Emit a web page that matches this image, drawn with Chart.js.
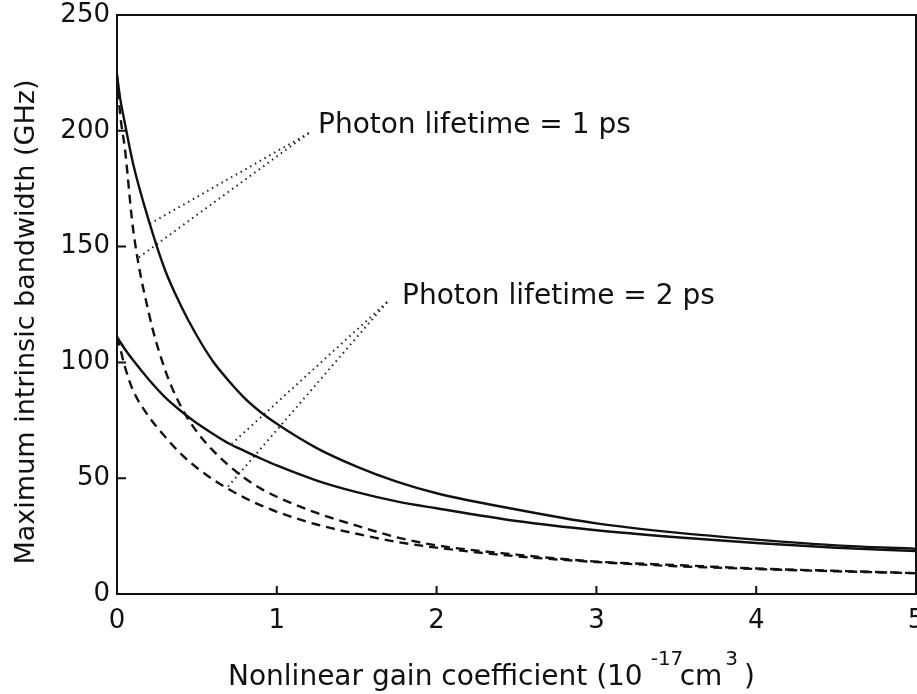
<!DOCTYPE html>
<html>
<head>
<meta charset="utf-8">
<script src="https://cdn.jsdelivr.net/npm/chart.js@4.4.0/dist/chart.umd.min.js"></script>
<style>
  html, body { margin: 0; padding: 0; background: #fff; }
  #wrap { width: 917px; height: 694px; }
</style>
</head>
<body>
<div id="wrap"><canvas id="bw"></canvas></div>
<script>
// gain coefficient (1e-17 cm^3) sample points
const gain = [0, 0.02, 0.05, 0.1, 0.2, 0.3, 0.4, 0.5, 0.6, 0.7, 0.8, 0.9, 1, 1.25, 1.5, 1.75, 2, 2.5, 3, 3.5, 4, 4.5, 5];

// max intrinsic bandwidth (GHz)
const solid1ps  = [224, 214, 203, 186, 161, 140, 124.5, 111.5, 100.5, 92, 84.5, 78.5, 73.5, 63, 55, 48.5, 43.5, 36.5, 30.5, 26.5, 23.5, 21, 19.5];
const solid2ps  = [111, 108.8, 105.7, 101, 92.5, 85, 79, 73.7, 69.2, 65, 61.7, 58.5, 55.5, 49, 44, 40, 37, 31.5, 27.5, 24.5, 22, 20, 18.5];
const dashed1ps = [224, 207, 192, 158, 121, 97, 81, 70, 62, 55.5, 50, 45.5, 42, 35, 29.5, 24.5, 21, 17, 14, 12.5, 11, 10, 9];
const dashed2ps = [111, 106, 98, 88, 76.5, 68, 60.5, 54.5, 49.5, 45.2, 41.5, 38.3, 35.5, 30, 26, 22.5, 20, 16.3, 13.8, 12, 10.8, 9.8, 9];

// leader lines from the labels to the curves (data coords)
const lead1a = [[1.2, 199], [0.21, 160]];
const lead1b = [[1.2, 199], [0.13, 145]];
const lead2a = [[1.69, 126], [0.72, 65]];
const lead2b = [[1.69, 126], [0.69, 46]];

const xTicks = [1, 2, 3, 4];
const yTicks = [50, 100, 150, 200];

const pts = ys => ys.map((v, i) => ({ x: gain[i], y: v }));
const seg = a => a.map(p => ({ x: p[0], y: p[1] }));

const FONT = "'DejaVu Sans', sans-serif";

function curve(data, dash) {
  return {
    data: pts(data),
    borderColor: '#111',
    borderWidth: 2.4,
    borderDash: dash,
    pointRadius: 0,
    cubicInterpolationMode: 'monotone',
    fill: false
  };
}
function leader(data) {
  return {
    data: seg(data),
    borderColor: '#222',
    borderWidth: 2,
    borderDash: [1.5, 4],
    pointRadius: 0,
    fill: false
  };
}

const decor = {
  id: 'decor',
  afterDraw(chart) {
    const ctx = chart.ctx;
    const a = chart.chartArea;
    const xs = chart.scales.x, ys = chart.scales.y;
    ctx.save();
    ctx.strokeStyle = '#111';
    ctx.lineWidth = 2;
    // top and right frame
    ctx.beginPath();
    ctx.moveTo(a.left, a.top);
    ctx.lineTo(a.right, a.top);
    ctx.lineTo(a.right, a.bottom);
    ctx.stroke();
    // inward ticks
    ctx.beginPath();
    xTicks.forEach(v => {
      const px = xs.getPixelForValue(v);
      ctx.moveTo(px, a.bottom);
      ctx.lineTo(px, a.bottom - 8);
    });
    yTicks.forEach(v => {
      const py = ys.getPixelForValue(v);
      ctx.moveTo(a.left, py);
      ctx.lineTo(a.left + 9, py);
    });
    ctx.stroke();

    ctx.fillStyle = '#111';
    ctx.textBaseline = 'alphabetic';
    ctx.textAlign = 'left';
    // curve labels
    ctx.font = '28px ' + FONT;
    ctx.fillText('Photon lifetime = 1 ps', 318, 133);
    ctx.fillText('Photon lifetime = 2 ps', 402, 304);

    // x title with superscripts
    let x = 228;
    const base = 685;
    ctx.font = '28px ' + FONT;
    const t1 = 'Nonlinear gain coefficient (10';
    ctx.fillText(t1, x, base);
    x += ctx.measureText(t1).width;
    ctx.font = '20px ' + FONT;
    ctx.fillText('-17', x + 8, base - 20);
    const cmX = x + 37;
    ctx.font = '28px ' + FONT;
    ctx.fillText('cm', cmX, base);
    x = cmX + ctx.measureText('cm').width;
    ctx.font = '20px ' + FONT;
    ctx.fillText('3', x + 3, base - 20);
    x += 3 + ctx.measureText('3').width;
    ctx.font = '28px ' + FONT;
    ctx.fillText(')', x + 6, base);

    // y title
    ctx.translate(27, 322);
    ctx.rotate(-Math.PI / 2);
    ctx.textAlign = 'center';
    ctx.textBaseline = 'middle';
    ctx.font = '27px ' + FONT;
    ctx.fillText('Maximum intrinsic bandwidth (GHz)', 0, 0);
    ctx.restore();
  }
};

new Chart('bw', {
  type: 'line',
  data: {
    datasets: [
      curve(solid1ps, []),
      curve(solid2ps, []),
      curve(dashed1ps, [9, 6]),
      curve(dashed2ps, [9, 6]),
      leader(lead1a),
      leader(lead1b),
      leader(lead2a),
      leader(lead2b)
    ]
  },
  options: {
    responsive: true,
    maintainAspectRatio: false,
    animation: false,
    layout: { padding: { left: 0, right: 1, top: 15, bottom: 0 }, autoPadding: false },
    plugins: { legend: { display: false }, tooltip: { enabled: false } },
    scales: {
      x: {
        type: 'linear',
        min: 0, max: 5,
        grid: { display: false, drawTicks: false },
        border: { display: true, color: '#111', width: 2 },
        ticks: { stepSize: 1, color: '#111', padding: 12, maxRotation: 0,
                 font: { family: FONT, size: 26 } },
        afterFit(s) { s.height = 100; s.paddingLeft = 0; s.paddingRight = 0; }
      },
      y: {
        min: 0, max: 250,
        grid: { display: false, drawTicks: false },
        border: { display: true, color: '#111', width: 2 },
        ticks: { stepSize: 50, color: '#111', padding: 7,
                 font: { family: FONT, size: 26 } },
        afterFit(s) { s.width = 117; s.paddingTop = 0; s.paddingBottom = 0; }
      }
    }
  },
  plugins: [decor]
});
</script>
</body>
</html>
